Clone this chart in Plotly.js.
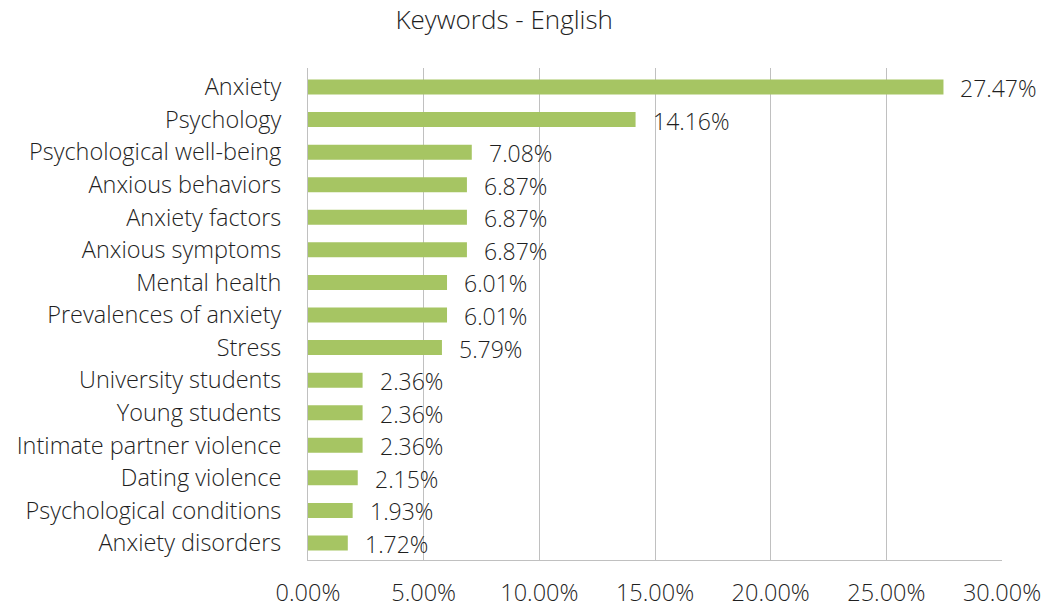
<!DOCTYPE html>
<html><head><meta charset="utf-8">
<script src="https://cdn.plot.ly/plotly-3.0.1.min.js"></script>
<style>html,body{margin:0;padding:0;background:#fff;}#chart{width:1046px;height:608px;}</style>
</head><body><div id="chart"></div>
<script>
const categories = ["Anxiety","Psychology","Psychological well-being","Anxious behaviors","Anxiety factors","Anxious symptoms","Mental health","Prevalences of anxiety","Stress","University students","Young students","Intimate partner violence","Dating violence","Psychological conditions","Anxiety disorders"];
const values = [27.47,14.16,7.08,6.87,6.87,6.87,6.01,6.01,5.79,2.36,2.36,2.36,2.15,1.93,1.72];
const tickVals = [0,5,10,15,20,25,30];
const tickText = ["0.00%","5.00%","10.00%","15.00%","20.00%","25.00%","30.00%"];
const FONT = "Open Sans, Noto Sans, sans-serif";
const TXT = "#1f1f1f";
const trace = {
  type: "bar", orientation: "h",
  y: categories, x: values,
  marker: {color: "#A6C563"},
  width: 0.46,
  hoverinfo: "none"
};
const annotations = values.map((v, i) => ({
  x: v, y: categories[i], xref: "x", yref: "y",
  text: v.toFixed(2) + "%", showarrow: false,
  xanchor: "left", yanchor: "middle", xshift: 15, yshift: -1,
  font: {family: FONT, size: 23, color: TXT, weight: 300}
}));
const layout = {
  width: 1046, height: 608,
  margin: {l: 308, r: 44, t: 68, b: 48},
  paper_bgcolor: "#fff", plot_bgcolor: "#fff",
  title: {text: "Keywords - English", x: 0.482, xref: "container", y: 0.967, yref: "container", yanchor: "middle",
          font: {family: FONT, size: 26, color: TXT, weight: 300}},
  xaxis: {range: [0, 30], tickvals: tickVals, ticktext: tickText, showgrid: true, gridcolor: "#C0C0C0", gridwidth: 1,
          zeroline: false, showline: true, linecolor: "#C0C0C0", linewidth: 1, ticks: "", ticklabelstandoff: 12,
          tickfont: {family: FONT, size: 23.5, color: TXT, weight: 300}, fixedrange: true},
  yaxis: {autorange: "reversed", showline: true, linecolor: "#C0C0C0", linewidth: 1, ticks: "", ticklabelstandoff: 21,
          tickfont: {family: FONT, size: 23.5, color: TXT, weight: 300}, fixedrange: true},
  annotations: annotations,
  showlegend: false,
  bargap: 0.54
};
Plotly.newPlot("chart", [trace], layout, {displayModeBar: false, staticPlot: true});
</script></body></html>
